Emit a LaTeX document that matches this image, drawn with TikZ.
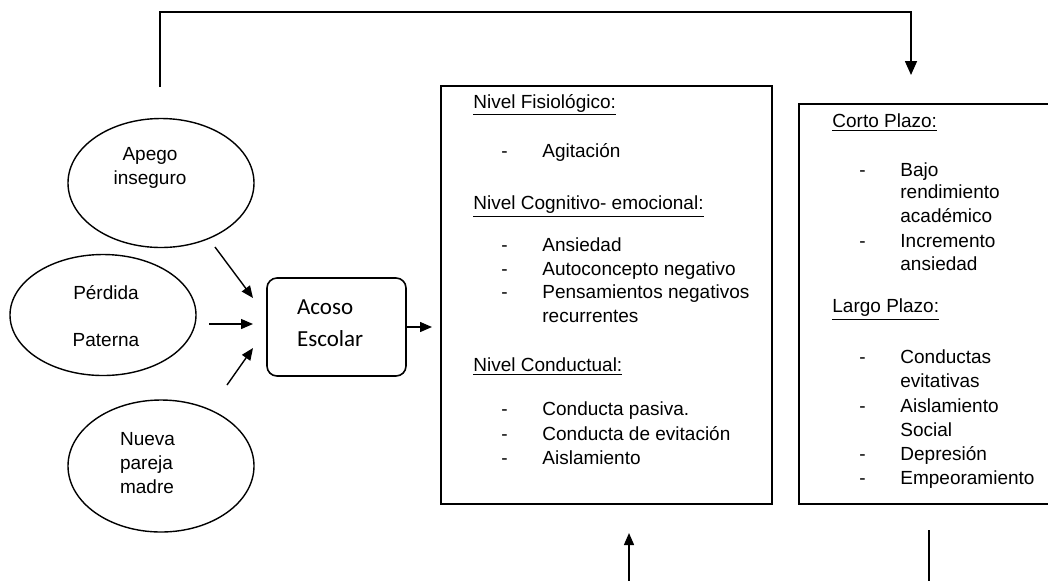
\documentclass[tikz,border=0pt]{standalone}
\usepackage{fontspec}
\setmainfont{Liberation Sans}
\newfontfamily\acosofont{Carlito}
\usetikzlibrary{arrows.meta,shapes.geometric}

\tikzset{
    causa/.style={draw, ellipse, line width=0.7pt, minimum width=93pt, inner sep=0pt},
    marco/.style={draw, line width=0.8pt, anchor=north west, inner sep=0pt},
    item/.style={anchor=west, inner sep=0pt, text height=7pt, text depth=2pt},
    titulo/.style={anchor=west, inner sep=0pt},
    flecha/.style={-{Triangle[length=6pt,width=5pt]}, line width=0.7pt},
}

\begin{document}
\begin{tikzpicture}[x=0.5pt, y=-0.5pt, font=\fontsize{9.5}{12}\selectfont]
    \useasboundingbox (0,0) rectangle (1048,580);
    \clip (0,0) rectangle (1048,580);

    % causas
    \node[causa, minimum height=64.5pt] (apego) at (161,183) {};
    \node[causa, minimum height=60.5pt] (perdida) at (103,315) {};
    \node[causa, minimum height=66pt] (nueva) at (161,466) {};
    \node[align=center] (apego-txt) at (150,168) {Apego\\inseguro};
    \node[align=center] (perdida-txt) at (106,316) {Pérdida\\[11.5pt]Paterna};
    \node[align=left, anchor=west] (nueva-txt) at (113,463) {Nueva\\pareja\\madre};

    % acoso
    \node[draw, rounded corners=5pt, line width=0.8pt, minimum width=69.5pt, minimum height=49pt] (acoso) at (336.5,327) {};
    \node[anchor=west, align=left, font=\acosofont\fontsize{11.5}{16}\selectfont] (acoso-txt) at (290,323) {Acoso\\Escolar};

    % consecuencias
    \node[marco, minimum width=165.5pt, minimum height=209pt] (niveles) at (440,85) {};
    \node[marco, minimum width=135pt, minimum height=200pt] (plazos) at (798,103) {};

    \node[titulo] (fisio) at (473,105) {\underline{Nivel Fisiológico:}};
    \node[titulo] (cogni) at (473,207) {\underline{Nivel Cognitivo- emocional:}};
    \node[titulo] (condu) at (473,367) {\underline{Nivel Conductual:}};
    \foreach \y/\txt in {152/Agitación, 246/Ansiedad, 270/Autoconcepto negativo,
        293/Pensamientos negativos, 317/recurrentes, 410/Conducta pasiva.,
        435/Conducta de evitación, 459/Aislamiento}
        \node[item] (a\y) at (542,\y) {\txt};
    \foreach \y in {152,246,270,293,410,435,459}
        \node[item] (ag\y) at (501,\y) {-};

    \node[titulo] (corto) at (832,123) {\underline{Corto Plazo:}};
    \node[titulo] (largo) at (832,310) {\underline{Largo Plazo:}};
    \foreach \y/\txt in {171/Bajo, 193/rendimiento, 217/académico, 242/Incremento,
        265/ansiedad, 358/Conductas, 382/evitativas, 407/Aislamiento, 431/Social,
        455/Depresión, 479/Empeoramiento}
        \node[item] (b\y) at (900,\y) {\txt};
    \foreach \y in {171,242,358,407,455,479}
        \node[item] (bg\y) at (859,\y) {-};

    % flechas
    \coordinate (ap-ini) at (215,247);
    \coordinate (ap-fin) at (253,298);
    \coordinate (pe-ini) at (209,324);
    \coordinate (pe-fin) at (253,324);
    \coordinate (nu-ini) at (227,385);
    \coordinate (nu-fin) at (253,348);
    \draw[flecha] (ap-ini) -- (ap-fin);
    \draw[flecha] (pe-ini) -- (pe-fin);
    \draw[flecha] (nu-ini) -- (nu-fin);
    \draw[flecha] (acoso.east) -- ([xshift=-4pt]acoso.east -| niveles.west);

    \coordinate (lazo-ini) at (160,87);
    \coordinate (lazo-fin) at (911,75);
    \draw[-{Triangle[length=7pt,width=6pt]}, line width=0.8pt] (lazo-ini) -- ++(0,-75) -| (lazo-fin);

    \coordinate (abajo-ini) at (629,585);
    \coordinate (abajo-fin) at (629,533);
    \draw[flecha] (abajo-ini) -- (abajo-fin);
    \coordinate (der-ini) at (929,530);
    \coordinate (der-fin) at (929,585);
    \draw[line width=0.7pt] (der-ini) -- (der-fin);
\end{tikzpicture}
\end{document}
